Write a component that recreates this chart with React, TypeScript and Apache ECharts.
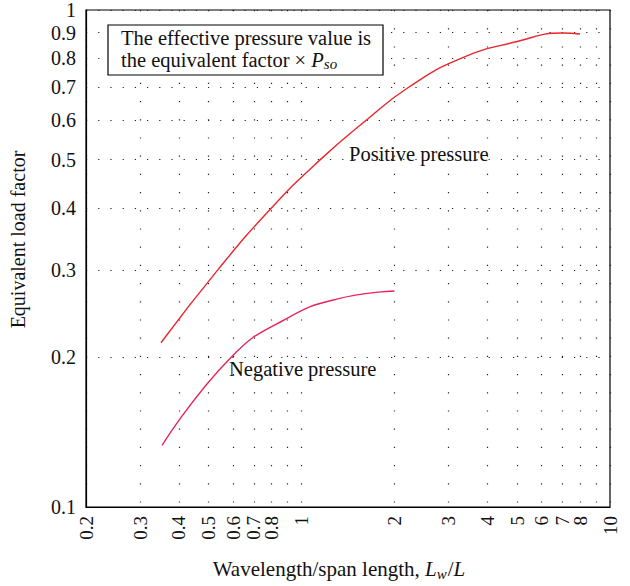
import React, { useEffect, useRef } from "react";
import * as echarts from "echarts";

const xLabelValues = [0.2, 0.3, 0.4, 0.5, 0.6, 0.7, 0.8, 1, 2, 3, 4, 5, 6, 7, 8, 9, 10];
const xGridValues = [0.2, 0.3, 0.4, 0.5, 0.6, 0.7, 0.8, 0.9, 1, 2, 3, 4, 5, 6, 7, 8, 9, 10];
const yTickValues = [0.1, 0.2, 0.3, 0.4, 0.5, 0.6, 0.7, 0.8, 0.9, 1];

const positiveX = [0.35, 0.535, 0.8, 1.15, 1.62, 2.23, 3.3, 5.0, 7.0, 8.0];
const positiveY = [0.214, 0.3, 0.4, 0.5, 0.6, 0.7, 0.8, 0.864, 0.899, 0.895];

const negativeX = [0.353, 0.59, 0.9, 1.3, 2.0];
const negativeY = [0.133, 0.2, 0.24, 0.262, 0.272];

const FONT = "'Liberation Serif', 'DejaVu Serif', serif";

export default function App() {
  const ref = useRef<HTMLDivElement>(null);

  useEffect(() => {
    if (!ref.current) return;
    const chart = echarts.init(ref.current, undefined, { renderer: "svg" });
    const pos = positiveX.map((x, i) => [x, positiveY[i]]);
    const neg = negativeX.map((x, i) => [x, negativeY[i]]);
    chart.setOption({
      animation: false,
      backgroundColor: "#ffffff",
      textStyle: { fontFamily: FONT },
      grid: {
        left: 80,
        right: 20,
        top: 8,
        bottom: 74,
        show: true,
        borderColor: "#000",
        borderWidth: 1.2,
        backgroundColor: "transparent",
      },
      xAxis: {
        type: "log",
        logBase: 10,
        min: 0.2,
        max: 10,
        name: "{n|Wavelength/span length, }{i|L}{s|w}{n|/}{i|L}",
        nameLocation: "middle",
        nameGap: 50,
        nameTextStyle: {
          padding: [0, 18, 0, 0],
          rich: {
            n: { fontFamily: FONT, fontSize: 21, color: "#111", lineHeight: 24 },
            i: { fontFamily: FONT, fontSize: 21, fontStyle: "italic", color: "#111", lineHeight: 24 },
            s: { fontFamily: FONT, fontSize: 15, fontStyle: "italic", color: "#111", lineHeight: 15, verticalAlign: "bottom", padding: [0, 1, 0, 0] },
          },
        },
        axisLine: { show: true, lineStyle: { color: "#000", width: 1.2 } },
        axisTick: { show: false, customValues: xGridValues },
        axisLabel: {
          customValues: xLabelValues,
          showMinLabel: true,
          showMaxLabel: true,
          hideOverlap: false,
          rotate: 90,
          margin: 9,
          fontSize: 19,
          color: "#111",
          fontFamily: FONT,
          formatter: (v: number) => String(v),
        },
        splitLine: {
          show: true,
          lineStyle: { color: "#222", width: 1.2, type: [1.2, 17] },
        },
        minorTick: { show: false },
        minorSplitLine: { show: false },
      },
      yAxis: {
        type: "log",
        logBase: 10,
        min: 0.1,
        max: 1,
        name: "Equivalent load factor",
        nameLocation: "middle",
        nameGap: 58,
        nameTextStyle: { fontFamily: FONT, fontSize: 20, color: "#111", padding: [0, 0, 0, 38] },
        axisLine: { show: true, lineStyle: { color: "#000", width: 1.2 } },
        axisTick: { show: false, customValues: yTickValues },
        axisLabel: {
          customValues: yTickValues,
          showMinLabel: true,
          showMaxLabel: true,
          margin: 10,
          fontSize: 20,
          color: "#111",
          fontFamily: FONT,
          formatter: (v: number) => String(v),
        },
        splitLine: {
          show: true,
          lineStyle: { color: "#222", width: 1.2, type: [1.2, 11] },
        },
      },
      graphic: [
        {
          type: "rect",
          z: 100,
          shape: { x: 108, y: 25, width: 275, height: 50 },
          style: { fill: "#fff", stroke: "#000", lineWidth: 1.2 },
        },
        {
          type: "text",
          z: 101,
          x: 121,
          y: 38,
          style: {
            text: "The effective pressure value is",
            fontFamily: FONT,
            fontSize: 20.5,
            fill: "#111",
            verticalAlign: "middle",
          },
        },
        {
          type: "text",
          z: 101,
          x: 121,
          y: 60,
          style: {
            text: "{n|the equivalent factor × }{i|P}{s|so}",
            verticalAlign: "middle",
            rich: {
              n: { fontFamily: FONT, fontSize: 20.5, fill: "#111", lineHeight: 22 },
              i: { fontFamily: FONT, fontSize: 20.5, fontStyle: "italic", fill: "#111", lineHeight: 22 },
              s: { fontFamily: FONT, fontSize: 15, fontStyle: "italic", fill: "#111", lineHeight: 15, verticalAlign: "bottom" },
            },
          },
        },
        {
          type: "text",
          z: 101,
          x: 349,
          y: 154,
          style: {
            text: "Positive pressure",
            fontFamily: FONT,
            fontSize: 20.5,
            fill: "#111",
            verticalAlign: "middle",
          },
        },
        {
          type: "text",
          z: 101,
          x: 229,
          y: 369,
          style: {
            text: "Negative pressure",
            fontFamily: FONT,
            fontSize: 20.5,
            fill: "#111",
            verticalAlign: "middle",
          },
        },
      ],
      series: [
        {
          name: "Positive pressure",
          type: "line",
          data: pos,
          smooth: 0.5,
          showSymbol: false,
          lineStyle: { color: "#e8262c", width: 1.4 },
          z: 5,
        },
        {
          name: "Negative pressure",
          type: "line",
          data: neg,
          smooth: 0.5,
          showSymbol: false,
          lineStyle: { color: "#e8225a", width: 1.4 },
          z: 5,
        },
      ],
    });
    return () => chart.dispose();
  }, []);

  return (
    <div
      ref={ref}
      style={{ position: "fixed", left: 0, top: 0, width: 630, height: 586, background: "#fff" }}
    />
  );
}
